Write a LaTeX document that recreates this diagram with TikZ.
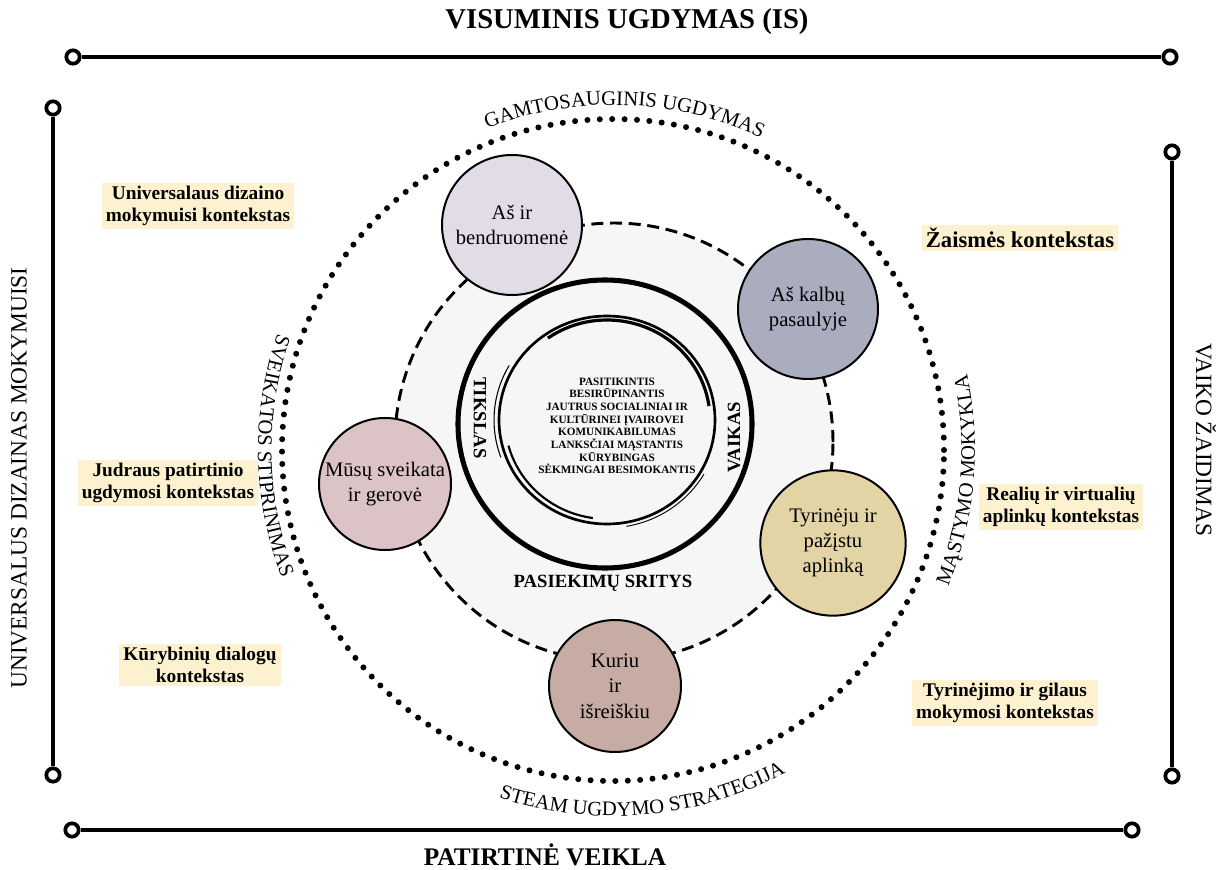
\documentclass[tikz,border=0pt]{standalone}
\usepackage{fontspec}
\setmainfont{Liberation Serif}
\usepackage{tikz}
\usetikzlibrary{calc,decorations.text}
\definecolor{hilite}{RGB}{253,241,208}
\definecolor{ringfill}{RGB}{246,246,246}
\definecolor{bendcol}{RGB}{225,220,230}
\definecolor{kalbcol}{RGB}{169,173,190}
\definecolor{aplcol}{RGB}{226,212,164}
\definecolor{kurcol}{RGB}{198,172,163}
\definecolor{sveicol}{RGB}{220,195,197}
\newcommand{\ringfont}{\fontsize{15.5}{18}\selectfont}

\begin{document}
\begin{tikzpicture}[x=0.75pt,y=0.75pt]
\tikzset{endpt/.style={circle,draw,line width=2.8pt,minimum size=10pt,inner sep=0pt,fill=white},
         frame/.style={line width=3pt},
         ctx/.style={fill=hilite,font=\bfseries\fontsize{14.5}{17}\selectfont,align=center,inner xsep=3pt,inner ysep=2pt},
         area/.style={circle,draw,line width=1.5pt,align=center,font=\fontsize{15.5}{19}\selectfont,inner sep=0pt},
         ringtext/.style={decorate,decoration={text along path,text align=center,text={#1}}},
         sidetitle/.style={font=\fontsize{17.5}{20}\selectfont}}
\useasboundingbox (0,0) rectangle (1222,-870);

% titles and frame
\node[font=\bfseries\fontsize{21.5}{24}\selectfont] (title) at (627,-22) {VISUMINIS UGDYMAS (IS)};
\node[font=\bfseries\fontsize{19}{22}\selectfont] (bottitle) at (545,-855) {PATIRTINĖ VEIKLA};
\node[sidetitle,rotate=90] (lefttitle) at (19,-478) {UNIVERSALUS DIZAINAS MOKYMUISI};
\node[sidetitle,rotate=-90] (righttitle) at (1206,-440) {VAIKO ŽAIDIMAS};
\node[endpt] (tl) at (73,-57) {};
\node[endpt] (tr) at (1170,-57) {};
\node[endpt] (bl) at (72,-830) {};
\node[endpt] (br) at (1132,-830) {};
\node[endpt] (lt) at (53,-108) {};
\node[endpt] (lb) at (53,-775) {};
\node[endpt] (rt) at (1172,-152) {};
\node[endpt] (rb) at (1172,-776) {};
\draw[frame] (tl) -- (tr);
\draw[frame] (bl) -- (br);
\draw[frame] (lt) -- (lb);
\draw[frame] (rt) -- (rb);

% rings
\coordinate (C) at (613,-450);
\draw[line width=4.5pt,line cap=round,dash pattern=on 0pt off 9.3pt] (C) circle[radius=331];
\draw[line width=2.2pt,dash pattern=on 9pt off 5pt,fill=ringfill] (614,-442) circle[radius=219];
\draw[line width=3.8pt] (605,-424) ellipse[x radius=147,y radius=144];
\coordinate (S) at (607,-420);
\draw[line width=2pt] (S) ellipse[x radius=108,y radius=104];
\draw[line width=2.4pt] ($(S)+(125:103 and 100)$) arc[start angle=125,end angle=8,x radius=103,y radius=100];
\draw[line width=0.8pt] ($(S)+(150:113 and 109)$) arc[start angle=150,end angle=200,x radius=113,y radius=109];
\draw[line width=1.6pt] ($(S)+(195:102 and 99)$) arc[start angle=195,end angle=262,x radius=102,y radius=99];
\draw[line width=0.7pt] ($(S)+(-80:112 and 108)$) arc[start angle=-80,end angle=-30,x radius=112,y radius=108];

\path[ringtext={|\ringfont|GAMTOSAUGINIS UGDYMAS}] ($(C)+(128:345)$) arc[start angle=128,end angle=48,radius=345];
\path[ringtext={|\ringfont|SVEIKATOS STIPRINIMAS}] ($(C)+(141:355)$) arc[start angle=141,end angle=221,radius=355];
\path[ringtext={|\ringfont|MĄSTYMO MOKYKLA}] ($(C)+(-45:362)$) arc[start angle=-45,end angle=35,radius=362];
\path[ringtext={|\ringfont|STEAM UGDYMO STRATEGIJA}] ($(C)+(225:366)$) arc[start angle=225,end angle=325,radius=366];

% centre
\node[font=\bfseries\fontsize{8.4}{9.5}\selectfont,align=center] (traits) at (617,-426)
  {PASITIKINTIS\\BESIRŪPINANTIS\\JAUTRUS SOCIALINIAI IR\\KULTŪRINEI ĮVAIROVEI\\KOMUNIKABILUMAS\\LANKSČIAI MĄSTANTIS\\KŪRYBINGAS\\SĖKMINGAI BESIMOKANTIS};
\node[font=\bfseries\fontsize{14}{16}\selectfont,rotate=-90] (goal) at (480,-418) {TIKSLAS};
\node[font=\bfseries\fontsize{14}{16}\selectfont,rotate=90] (child) at (734,-437) {VAIKAS};
\node[font=\bfseries\fontsize{14}{16}\selectfont] (areas) at (603,-583) {PASIEKIMŲ SRITYS};

% achievement areas
\node[area,fill=bendcol,minimum size=105pt] (comm) at (512,-225) {Aš ir\\bendruomenė};
\node[area,fill=kalbcol,minimum size=105pt] (lang) at (808,-309) {Aš kalbų\\pasaulyje};
\node[area,fill=aplcol,minimum size=109pt] (env) at (833,-543) {Tyrinėju ir\\pažįstu\\aplinką};
\node[area,fill=kurcol,minimum size=99pt] (create) at (615,-686) {Kuriu\\ir\\išreiškiu};
\node[area,fill=sveicol,minimum size=99pt] (health) at (385,-484) {Mūsų sveikata\\ir gerovė};

% contexts
\node[ctx] (udl) at (198,-206) {Universalaus dizaino\\mokymuisi kontekstas};
\node[ctx] (move) at (168,-483) {Judraus patirtinio\\ugdymosi kontekstas};
\node[ctx] (dialog) at (200,-665) {Kūrybinių dialogų\\kontekstas};
\node[ctx,font=\bfseries\fontsize{17}{20}\selectfont] (play) at (1020,-238) {Žaismės kontekstas};
\node[ctx] (real) at (1061,-507) {Realių ir virtualių\\aplinkų kontekstas};
\node[ctx] (deep) at (1005,-703) {Tyrinėjimo ir gilaus\\mokymosi kontekstas};
\end{tikzpicture}
\end{document}
